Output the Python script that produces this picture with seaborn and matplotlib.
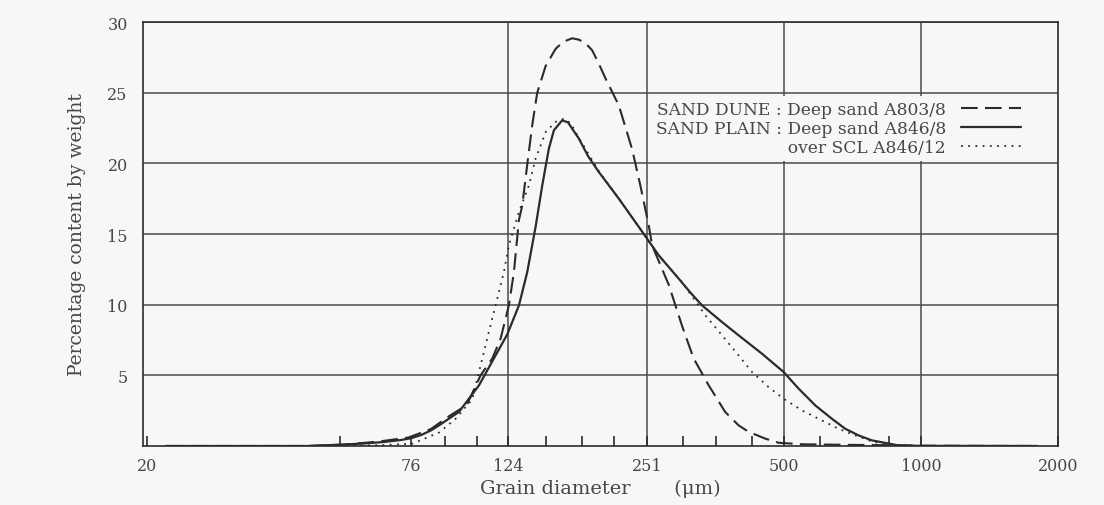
import matplotlib
matplotlib.use("Agg")
import matplotlib.pyplot as plt
import seaborn as sns
from matplotlib.ticker import NullFormatter, FixedLocator, FixedFormatter

# ---------------- data ----------------
DUNE_SIZE = [22, 45, 54, 64, 75, 84, 92, 100.7, 108, 114.6, 119.5, 124.6, 127.8, 131.1,
             133.3, 136.7, 140.2, 143.8, 150.1, 157.8, 164, 171.7, 177.5, 183.6, 189.8,
             196, 203.1, 217.2, 232.3, 242.3, 252.7, 257, 279.6, 299, 317, 342, 372, 398,
             418.7, 455.5, 487, 550, 700, 900, 1000, 1800]
DUNE_PCT = [0, 0, 0.1, 0.3, 0.6, 1.2, 2.1, 2.9, 5.0, 6.2, 7.6, 9.95, 12.3, 16.0,
            17.0, 19.9, 22.7, 25.0, 26.9, 28.1, 28.6, 28.85, 28.75, 28.5, 28.0,
            27.1, 26.0, 24.1, 21.0, 18.4, 15.6, 14.2, 11.4, 8.5, 6.2, 4.3, 2.4, 1.46,
            1.0, 0.52, 0.23, 0.12, 0.08, 0.05, 0.02, 0]

PLAIN_SIZE = [22, 45, 54, 60, 66, 72, 76, 80, 84, 87.5, 96.8, 107.1, 116.5, 123.6, 131.1,
              136.7, 142.6, 147.5, 152.5, 156.4, 163.1, 168, 172, 177.5, 186, 196.3, 217.2,
              240.3, 265.8, 294, 312, 330.8, 365.9, 398, 447.9, 499.5, 539, 586.5, 637.6,
              682.3, 729.8, 780.4, 893, 1000, 1800]
PLAIN_PCT = [0, 0, 0.1, 0.18, 0.28, 0.42, 0.55, 0.78, 1.1, 1.46, 2.41, 4.29, 6.41, 7.9, 9.95,
             12.3, 15.5, 18.44, 21.04, 22.33, 23.04, 22.9, 22.4, 21.75, 20.5, 19.39, 17.5,
             15.5, 13.49, 11.84, 10.85, 9.95, 8.77, 7.83, 6.53, 5.24, 4.06, 2.87, 1.93,
             1.22, 0.75, 0.40, 0.04, 0.01, 0]

SCL_SIZE = [22, 50, 64, 76.4, 87.5, 95.2, 103.5, 108, 112.6, 116.5, 121.5, 124.6, 131.1,
            137.9, 142.6, 150.1, 157.8, 164.5, 170.2, 177.5, 196.3, 217.2, 240.3, 265.8,
            299, 336.5, 366, 398, 425.8, 463, 499.5, 548, 596, 659.5, 717.8, 780, 835,
            1000, 1800]
SCL_PCT = [0, 0, 0.05, 0.16, 0.95, 1.93, 3.3, 5.7, 8.07, 9.95, 12.31, 14.2, 16.56,
           18.44, 20.33, 22.22, 22.93, 23.16, 22.85, 21.8, 19.45, 17.5, 15.5, 13.45,
           11.6, 9.24, 7.83, 6.41, 5.24, 4.17, 3.35, 2.52, 1.93, 1.22, 0.75, 0.33, 0.09,
           0, 0]

LABEL_DUNE = "SAND DUNE : Deep sand A803/8"
LABEL_PLAIN = "SAND PLAIN : Deep sand A846/8"
LABEL_SCL = "over SCL A846/12"
LABEL_PREFIX = "SAND PLAIN : "

X_MAJOR = [20, 76, 124, 251, 500, 1000, 2000]
X_MAJOR_LABELS = ["20", "76", "124", "251", "500", "1000", "2000"]
X_MINOR = [53, 90, 106, 150, 180, 212, 300, 355, 425, 600, 850]
X_GRID = [124, 251, 500, 1000]
Y_TICKS = [5, 10, 15, 20, 25, 30]

# ---------------- style ----------------
sns.set_theme(style="white")
plt.rcParams['font.family'] = ['DejaVu Serif', 'Liberation Serif']
BG = '#f7f7f5'
INK = '#2b2b2b'
TXT = '#474747'
GRID = '#4a4a4a'

fig = plt.figure(figsize=(11.04, 5.06), dpi=100, facecolor=BG)
ax = fig.add_axes([143 / 1104, 1 - 447 / 506, 915 / 1104, 424 / 506])
ax.set_facecolor(BG)

sns.lineplot(x=DUNE_SIZE, y=DUNE_PCT, ax=ax, color=INK, lw=1.5,
             linestyle=(0, (8, 3.5)), estimator=None, sort=False)
sns.lineplot(x=PLAIN_SIZE, y=PLAIN_PCT, ax=ax, color=INK, lw=1.6,
             estimator=None, sort=False)
sns.lineplot(x=SCL_SIZE, y=SCL_PCT, ax=ax, color=INK, lw=1.3,
             linestyle=(0, (1, 3)), estimator=None, sort=False)
lines = ax.get_lines()

ax.set_xscale('log')
ax.set_xlim(19.6, 2000)
ax.set_ylim(0, 30)

# grid
ax.yaxis.set_major_locator(FixedLocator(Y_TICKS))
ax.grid(axis='y', color=GRID, lw=1.1)
ax.grid(axis='x', visible=False)
for g in X_GRID:
    ax.axvline(g, color=GRID, lw=1.1, zorder=0.5)
ax.set_axisbelow(True)

ax.xaxis.set_major_locator(FixedLocator(X_MAJOR))
ax.xaxis.set_major_formatter(FixedFormatter(X_MAJOR_LABELS))
ax.xaxis.set_minor_locator(FixedLocator(X_MINOR))
ax.xaxis.set_minor_formatter(NullFormatter())

ax.tick_params(axis='x', which='both', direction='in', length=7, width=1.2,
               color=INK, bottom=True, top=False)
ax.tick_params(axis='x', which='major', pad=8, labelsize=11.5, labelcolor=TXT)
ax.tick_params(axis='y', which='major', length=0, pad=11, labelsize=11.5,
               labelcolor=TXT, left=True)

for s in ax.spines.values():
    s.set_color(INK)
    s.set_linewidth(1.2)
    s.set_visible(True)

ax.set_xlabel("Grain diameter       (\u03bcm)", fontsize=14, color=TXT, labelpad=3)
ax.set_ylabel("Percentage content by weight", fontsize=13.5, color=TXT, labelpad=15)

# legend: align third label with the text after the colon
fs_leg = 12.3
renderer = fig.canvas.get_renderer()
def _w(s):
    t = ax.text(0, 0, s, fontsize=fs_leg)
    w = t.get_window_extent(renderer).width
    t.remove()
    return w
w_pref = _w(LABEL_PREFIX)
w_en = _w("\u2002")
w_thin = _w("\u2009")
n_en = int(w_pref // w_en)
n_thin = int(round((w_pref - n_en * w_en) / w_thin))
pad = "\u2002" * n_en + "\u2009" * n_thin
leg = ax.legend(lines, [LABEL_DUNE, LABEL_PLAIN, pad + LABEL_SCL],
                loc='upper left', bbox_to_anchor=((650 - 143) / 915, (447 - 97) / 424),
                borderaxespad=0, borderpad=0.3, frameon=True, facecolor=BG,
                edgecolor='none', framealpha=1, fancybox=False, fontsize=fs_leg,
                handlelength=3.5, handletextpad=0.9, labelspacing=0.12,
                markerfirst=False, labelcolor=TXT)

fig.savefig("out.png", dpi=100, facecolor=BG)
